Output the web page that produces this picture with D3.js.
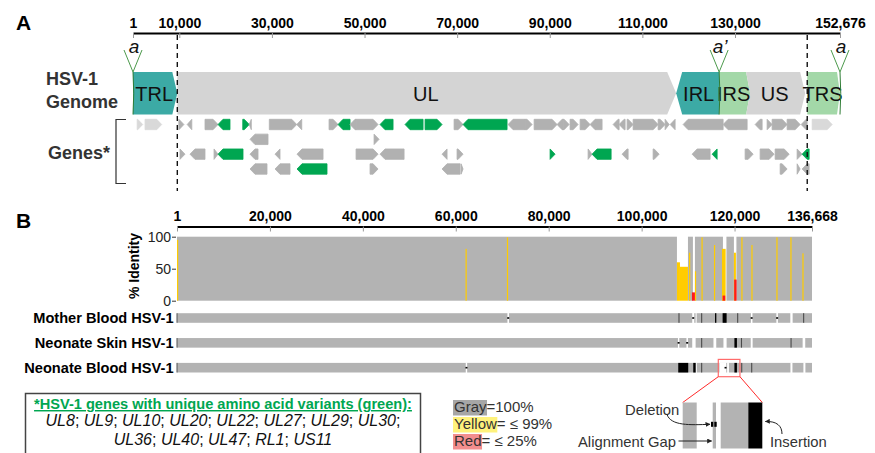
<!DOCTYPE html>
<html>
<head>
<meta charset="utf-8">
<script src="https://cdn.jsdelivr.net/npm/d3@7"></script>
<style>
  body { margin: 0; background: #fff; }
  svg { font-family: "Liberation Sans", Arial, Helvetica, sans-serif; }
</style>
</head>
<body>
<script>
// ---- data ----
var GENOME_LEN = 152676;
var ALIGN_LEN = 136668;
var genomeTicks = [1, 10000, 30000, 50000, 70000, 90000, 110000, 130000, 152676];
var alignTicks = [1, 20000, 40000, 60000, 80000, 100000, 120000, 136668];
var identityTicks = [0, 50, 100];

var regionNames = ["TRL", "UL", "IRL", "IRS", "US", "TRS"];
var regionStart = [1, 9570, 117300, 126580, 132400, 145600];
var regionEnd   = [9570, 117300, 126580, 133270, 145150, 152676];
var regionType  = ["RL", "U", "RL", "RS", "U", "RS"];
var aSites  = [1, 126580, 152676];
var aLabels = ["a", "a\u2019", "a"];

// [start, end, strand, row, class]  class: n = gene, v = unique aa variant, r = repeat copy
var genes = [
  [900, 2100, 1, 0, "r"], [2600, 6200, 1, 0, "r"], [9900, 11000, 1, 0, "n"], [11700, 12700, -1, 0, "n"],
  [15550, 18360, 1, 0, "n"], [18360, 20950, -1, 0, "v"], [23700, 25100, 1, 0, "v"], [25100, 25550, -1, 0, "n"],
  [29440, 35360, 1, 0, "n"], [35360, 36440, -1, 0, "n"], [42340, 44280, 1, 0, "n"], [44280, 46870, -1, 0, "v"],
  [46870, 48170, -1, 0, "n"], [48170, 52920, 1, 0, "n"], [53350, 56160, -1, 0, "v"], [58750, 62640, -1, 0, "v"],
  [63070, 66740, 1, 0, "v"], [69340, 71280, 1, 0, "n"], [71280, 80780, -1, 0, "v"], [81000, 84670, -1, 0, "n"],
  [84670, 86180, 1, 0, "n"], [86620, 91580, 1, 0, "n"], [91580, 92880, -1, 0, "n"], [92880, 94180, 1, 0, "n"],
  [94390, 96120, 1, 0, "n"], [96550, 98710, 1, 0, "n"], [98710, 101300, -1, 0, "n"], [103680, 104980, -1, 0, "n"],
  [104980, 106270, -1, 0, "n"], [106700, 108000, 1, 0, "n"], [108000, 113400, 1, 0, "n"], [113400, 114910, 1, 0, "n"],
  [114910, 115780, 1, 0, "n"], [116000, 117070, -1, 0, "n"], [118800, 127440, -1, 0, "n"], [127440, 132620, -1, 0, "n"],
  [134350, 135860, -1, 0, "n"], [136940, 138020, 1, 0, "n"], [138020, 141260, 1, 0, "n"], [141260, 144070, 1, 0, "n"],
  [144290, 145580, -1, 0, "n"], [146660, 150980, 1, 0, "r"],
  [25270, 29160, -1, 1, "n"], [52060, 53140, 1, 1, "n"],
  [10150, 11230, 1, 2, "n"], [12310, 15550, -1, 2, "n"], [17500, 18360, 1, 2, "n"], [18360, 23760, -1, 2, "v"],
  [25270, 27000, -1, 2, "n"], [30670, 31750, -1, 2, "n"], [35420, 41040, -1, 2, "n"], [48170, 52920, 1, 2, "n"],
  [53350, 58540, -1, 2, "n"], [66740, 67820, -1, 2, "n"], [69980, 71280, 1, 2, "n"], [90070, 91150, 1, 2, "v"],
  [98280, 99140, 1, 2, "n"], [99140, 103250, -1, 2, "v"], [105620, 106920, -1, 2, "n"], [112320, 113620, 1, 2, "n"],
  [120740, 124630, -1, 2, "n"], [125060, 126140, -1, 2, "v"], [132190, 133920, 1, 2, "n"], [135430, 138450, 1, 2, "n"],
  [138670, 141700, 1, 2, "n"], [143420, 144500, 1, 2, "n"], [144500, 146010, -1, 2, "v"],
  [25270, 28940, -1, 3, "n"], [30670, 33910, -1, 3, "n"], [35420, 41900, -1, 3, "v"], [51190, 52920, 1, 3, "n"],
  [66740, 70630, -1, 3, "n"], [70850, 71280, 1, 3, "n"], [139750, 141260, 1, 3, "n"], [143420, 144070, 1, 3, "n"],
  [144500, 146010, -1, 3, "n"]
];

// identity plot: covered stretches, then coloured windows [start, end, % identity]
var coverage = [[1, 107600], [109970, 111040], [111470, 117500], [118250, 119860], [120400, 136668]];
var yellowBars = [[1, 215, 95], [62100, 62300, 81], [71000, 71150, 99], [107600, 108250, 60], [108250, 109970, 53],
  [110200, 110370, 75], [111470, 111690, 46], [112880, 113030, 99], [115570, 115740, 87], [117290, 118080, 81],
  [119860, 120290, 75], [121460, 121610, 99], [123620, 123770, 87], [129000, 129150, 99], [132010, 132160, 99],
  [134600, 134750, 74]];
var redBars = [[110830, 111470, 13], [117430, 117990, 8], [119920, 120440, 33]];

var samples = ["Mother Blood HSV-1", "Neonate Skin HSV-1", "Neonate Blood HSV-1"];
var sampleGaps = [
  [[71120, 71450], [110890, 111320], [111620, 111840], [123520, 123850], [129000, 129330], [132000, 132500]],
  [[107820, 108100], [109650, 109970], [110890, 111620], [115460, 116060], [117610, 118290], [123480, 123890], [134650, 135210]],
  [[62150, 62450], [111730, 111900], [116750, 118210], [118400, 118790], [132030, 132460], [134820, 135250]]
];
var sampleDots = [[71280, 111100, 123680, 129160], [107960, 109800], [62300, 118060]];
var sampleSnps = [[108030, 112910, 120660, 134860], [112910, 121480, 132150], [112910, 121530, 123680]];
var sampleIndels = [
  [[115800, 116080], [117430, 118290]],
  [[119970, 120510]],
  [[107880, 110030], [111110, 111620], [119970, 120510]]
];
var zoomRange = [116500, 121160];

var legendWords = ["Gray", "Yellow", "Red"];
var legendRest = ["=100%", "= \u2264 99%", "= \u2264 25%"];
var variantTitle = "*HSV-1 genes with unique amino acid variants (green):";
var variantGenes = ["UL8", "UL9", "UL10", "UL20", "UL22", "UL27", "UL29", "UL30", "UL36", "UL40", "UL47", "RL1", "US11"];
var variantLines = [8, 5];

// ---- styles ----
var regionColor = { RL: "#3caaa5", U: "#d4d4d4", RS: "#a3d8a8" };
var geneColor = { n: "#b1b1b1", v: "#00a651", r: "#d9d9d9" };
var legendFill = ["#a6a6a6", "#fff27c", "#f28e8e"];
var GRAY = "#b3b3b3", YELLOW = "#ffcc00", RED = "#ff1a1a";

var WIDTH = 875, HEIGHT = 453;

var translate = function (x, y) { return "translate(" + x + "," + y + ")"; };

var svg = d3.select("body").append("svg")
    .attr("width", WIDTH)
    .attr("height", HEIGHT);

var defs = svg.append("defs");
defs.append("marker").attr("id", "arr")
    .attr("viewBox", "0 0 10 10").attr("refX", 9).attr("refY", 5)
    .attr("markerWidth", 5).attr("markerHeight", 5).attr("orient", "auto")
  .append("path").attr("d", "M0,0L10,5L0,10z").attr("fill", "#222");

svg.append("text").attr("x", 16).attr("y", 30).attr("font-size", 21).attr("font-weight", "bold").text("A");
svg.append("text").attr("x", 16).attr("y", 228).attr("font-size", 21).attr("font-weight", "bold").text("B");

// ================= Panel A =================
var xA = d3.scaleLinear().domain([1, GENOME_LEN]).range([133, 840]);
var rowY = d3.scaleLinear().domain([0, 3]).range([124.5, 169]);
var BOX_TOP = 72, BOX_BOT = 114.5;

var axisA = d3.axisTop(xA).tickValues(genomeTicks).tickFormat(d3.format(","))
    .tickSizeInner(-5).tickSizeOuter(0).tickPadding(5);
var gA = svg.append("g").attr("transform", translate(0, 33)).call(axisA)
    .attr("font-family", null).attr("font-size", 14).attr("font-weight", "bold");
gA.select(".domain").attr("stroke", "#000").attr("stroke-width", 2.2);
gA.selectAll(".tick line").attr("stroke", "#999");
gA.selectAll(".tick text").attr("fill", "#000");

svg.append("text").attr("x", 46).attr("y", 85).attr("font-size", 18).attr("font-weight", "bold")
    .attr("fill", "#333").text("HSV-1");
svg.append("text").attr("x", 46).attr("y", 107.5).attr("font-size", 18).attr("font-weight", "bold")
    .attr("fill", "#333").text("Genome");
svg.append("text").attr("x", 48).attr("y", 158.5).attr("font-size", 18).attr("font-weight", "bold")
    .attr("fill", "#333").text("Genes*");
svg.append("path").attr("d", "M126,119.5H116V183.5H126")
    .attr("fill", "none").attr("stroke", "#333").attr("stroke-width", 1.2);

// region shapes: left edge, right edge, head length
var regionShape = {
  TRL: ["flat", "point", 5], UL: ["flat", "point", 9], IRL: ["point", "flat", 6],
  IRS: ["flat", "point", 4], US: ["notch", "point", 5], TRS: ["flat", "point", 3]
};
var regionPath = function (i) {
  var x0 = xA(regionStart[i]), x1 = xA(regionEnd[i]);
  var s = regionShape[regionNames[i]], h = s[2], cy = (BOX_TOP + BOX_BOT) / 2;
  var p = [];
  if (s[0] === "point") p.push([x0 + h, BOX_TOP]); else p.push([x0, BOX_TOP]);
  if (s[1] === "point") { p.push([x1 - h, BOX_TOP]); p.push([x1, cy]); p.push([x1 - h, BOX_BOT]); }
  else { p.push([x1, BOX_TOP]); p.push([x1, BOX_BOT]); }
  if (s[0] === "point") { p.push([x0 + h, BOX_BOT]); p.push([x0, cy]); }
  else if (s[0] === "notch") { p.push([x0, BOX_BOT]); p.push([x0 + 4, cy]); }
  else p.push([x0, BOX_BOT]);
  return "M" + p.join("L") + "Z";
};

var regIdx = d3.range(regionNames.length);
svg.append("g").selectAll("path").data(regIdx).enter().append("path")
    .attr("d", regionPath)
    .attr("fill", function (i) { return regionColor[regionType[i]]; });

svg.append("g").selectAll("text").data(regIdx).enter().append("text")
    .attr("x", function (i) {
      var s = regionShape[regionNames[i]];
      var x0 = xA(regionStart[i]), x1 = xA(regionEnd[i]);
      return (x0 + x1) / 2 + (s[0] === "point" ? 1 : 0) - (s[1] === "point" ? 1 : 0);
    })
    .attr("y", 101)
    .attr("text-anchor", "middle")
    .attr("font-size", 20)
    .attr("fill", "#111")
    .text(function (i) { return regionNames[i]; });

// "a" sequences
var aG = svg.append("g").selectAll("g").data(aSites).enter().append("g");
aG.append("path")
    .attr("d", function (d) { var x = xA(d); return "M" + (x - 9) + ",50L" + x + "," + BOX_TOP + "L" + (x + 9) + ",50"; })
    .attr("fill", "none").attr("stroke", "#4c9a4c").attr("stroke-width", 1);
aG.append("path")
    .attr("d", function (d) { var x = xA(d); return "M" + x + "," + BOX_TOP + "Q" + (x + 1.5) + "," + ((BOX_TOP + BOX_BOT) / 2) + " " + x + "," + BOX_BOT; })
    .attr("fill", "none").attr("stroke", "#2f7d36").attr("stroke-width", 1);
aG.append("text")
    .attr("x", function (d) { return xA(d) + 1; })
    .attr("y", 53)
    .attr("text-anchor", "middle")
    .attr("font-size", 19)
    .attr("font-style", "italic")
    .attr("fill", "#111")
    .text(function (d, i) { return aLabels[i]; });

// genes
var genePath = function (d) {
  var x0 = xA(d[0]), x1 = xA(d[1]), cy = rowY(d[3]), h = 5.2;
  var head = Math.min(5, x1 - x0);
  if (d[2] > 0) {
    return "M" + x0 + "," + (cy - h) + "L" + (x1 - head) + "," + (cy - h) + "L" + x1 + "," + cy +
      "L" + (x1 - head) + "," + (cy + h) + "L" + x0 + "," + (cy + h) + "Z";
  }
  return "M" + x1 + "," + (cy - h) + "L" + (x0 + head) + "," + (cy - h) + "L" + x0 + "," + cy +
    "L" + (x0 + head) + "," + (cy + h) + "L" + x1 + "," + (cy + h) + "Z";
};
svg.append("g").selectAll("path").data(genes).enter().append("path")
    .attr("d", genePath)
    .attr("fill", function (d) { return geneColor[d[4]]; })
    .attr("stroke", function (d) { return geneColor[d[4]]; })
    .attr("stroke-width", 0.8)
    .attr("stroke-linejoin", "round");

// repeat boundaries
svg.append("g").selectAll("line").data([regionEnd[0], regionStart[5]]).enter().append("line")
    .attr("x1", xA).attr("x2", xA)
    .attr("y1", 35).attr("y2", 191)
    .attr("stroke", "#111").attr("stroke-width", 1.4).attr("stroke-dasharray", "5,4");

// ================= Panel B =================
var xB = d3.scaleLinear().domain([1, ALIGN_LEN]).range([177, 812]);
var yId = d3.scaleLinear().domain([0, 100]).range([300.7, 236.7]);
var trackY = d3.scaleLinear().domain([0, 2]).range([318, 367.7]);
var TRACK_H = 9.6;

var axisB = d3.axisTop(xB).tickValues(alignTicks).tickFormat(d3.format(","))
    .tickSizeInner(-5).tickSizeOuter(0).tickPadding(5.5);
var gB = svg.append("g").attr("transform", translate(0, 226.5)).call(axisB)
    .attr("font-family", null).attr("font-size", 14).attr("font-weight", "bold");
gB.select(".domain").attr("stroke", "#000").attr("stroke-width", 2.2);
gB.selectAll(".tick line").attr("stroke", "#999");
gB.selectAll(".tick text").attr("fill", "#000");

var yAxis = d3.axisLeft(yId).tickValues(identityTicks).tickSizeInner(4).tickSizeOuter(0).tickPadding(1);
var gY = svg.append("g").attr("transform", translate(176, 0)).call(yAxis)
    .attr("font-family", null).attr("font-size", 14);
gY.select(".domain").remove();
gY.selectAll(".tick line").attr("stroke", "#333");
gY.selectAll(".tick text").attr("fill", "#222");

svg.append("text").attr("transform", translate(139, 266) + " rotate(-90)")
    .attr("text-anchor", "middle").attr("font-size", 14).attr("font-weight", "bold").text("% Identity");

var barRect = function (g, data, color, minW) {
  g.selectAll(null).data(data).enter().append("rect")
      .attr("x", function (d) { return xB(d[0]); })
      .attr("width", function (d) { return Math.max(minW, xB(d[1]) - xB(d[0])); })
      .attr("y", function (d) { return yId(d[2] === undefined ? 100 : d[2]); })
      .attr("height", function (d) { return yId(0) - yId(d[2] === undefined ? 100 : d[2]); })
      .attr("fill", color);
};
var idG = svg.append("g");
barRect(idG, coverage, GRAY, 0.8);
barRect(idG, yellowBars, YELLOW, 1.2);
barRect(idG, redBars, RED, 1.2);

// sample tracks
var trG = svg.append("g").selectAll("g").data(samples).enter().append("g");
trG.append("text")
    .attr("x", 173.5)
    .attr("y", function (d, i) { return trackY(i) + 4.9; })
    .attr("text-anchor", "end")
    .attr("font-size", 14.6)
    .attr("font-weight", "bold")
    .text(function (d) { return d; });
trG.append("rect")
    .attr("x", xB(1)).attr("width", xB(ALIGN_LEN) - xB(1))
    .attr("y", function (d, i) { return trackY(i) - TRACK_H / 2; })
    .attr("height", TRACK_H)
    .attr("fill", GRAY);
trG.append("rect")
    .attr("x", xB(1) - 0.5).attr("width", 1)
    .attr("y", function (d, i) { return trackY(i) - TRACK_H / 2; })
    .attr("height", TRACK_H)
    .attr("fill", "#555");
trG.each(function (d, i) {
  var g = d3.select(this), y0 = trackY(i) - TRACK_H / 2;
  g.selectAll(".gap").data(sampleGaps[i]).enter().append("rect")
      .attr("x", function (s) { return xB(s[0]); })
      .attr("width", function (s) { return xB(s[1]) - xB(s[0]); })
      .attr("y", y0 - 0.5).attr("height", TRACK_H + 1).attr("fill", "#fff");
  g.selectAll(".snp").data(sampleSnps[i]).enter().append("rect")
      .attr("x", function (s) { return xB(s) - 0.5; })
      .attr("width", 1.1).attr("y", y0).attr("height", TRACK_H).attr("fill", "#4a4a4a");
  g.selectAll(".indel").data(sampleIndels[i]).enter().append("rect")
      .attr("x", function (s) { return xB(s[0]); })
      .attr("width", function (s) { return xB(s[1]) - xB(s[0]); })
      .attr("y", y0).attr("height", TRACK_H).attr("fill", "#000");
  g.selectAll(".dot").data(sampleDots[i]).enter().append("rect")
      .attr("x", function (s) { return xB(s) - 1; })
      .attr("width", 2).attr("y", trackY(i) - 0.8).attr("height", 1.6).attr("fill", "#000");
});

// zoom box and inset
var zx0 = xB(zoomRange[0]), zx1 = xB(zoomRange[1]);
var zy0 = trackY(2) - 8.3, zy1 = trackY(2) + 9;
svg.append("rect").attr("x", zx0).attr("y", zy0).attr("width", zx1 - zx0).attr("height", zy1 - zy0)
    .attr("fill", "none").attr("stroke", "#ff6b6b").attr("stroke-width", 1.2);

var inset = d3.scaleLinear().domain([0, 80]).range([682.7, 762.7]);
var INSET_TOP = 402.5, INSET_BOT = 448.5;
svg.append("path")
    .attr("d", "M" + zx0 + "," + zy1 + "L" + inset(0) + "," + INSET_TOP + "M" + zx1 + "," + zy1 + "L" + inset(79.6) + "," + INSET_TOP)
    .attr("fill", "none").attr("stroke", "#ff2a2a").attr("stroke-width", 1);

var insetParts = [[0, 14, GRAY], [30, 33.3, GRAY], [38, 65.6, GRAY], [65.6, 79.6, "#000"]];
svg.append("g").selectAll("rect").data(insetParts).enter().append("rect")
    .attr("x", function (d) { return inset(d[0]); })
    .attr("width", function (d) { return inset(d[1]) - inset(d[0]); })
    .attr("y", INSET_TOP).attr("height", INSET_BOT - INSET_TOP)
    .attr("fill", function (d) { return d[2]; });
var deletionMarks = [[28.3, 30.6], [31.6, 34]];
svg.append("g").selectAll("rect").data(deletionMarks).enter().append("rect")
    .attr("x", function (d) { return inset(d[0]); })
    .attr("width", function (d) { return inset(d[1]) - inset(d[0]); })
    .attr("y", 421.8).attr("height", 5).attr("fill", "#000");

var noteG = svg.append("g").attr("font-size", 14.8).attr("fill", "#333");
noteG.append("text").attr("x", 625).attr("y", 414.5).text("Deletion");
noteG.append("text").attr("x", 578).attr("y", 446.5).text("Alignment Gap");
noteG.append("text").attr("x", 770).attr("y", 446.5).text("Insertion");
var arrows = [
  "M667,414.5C671,426 690,425 " + (inset(28.3) - 1) + ",424.3",
  "M678.5,441L" + (inset(29)) + ",441",
  "M782,434C782,426 777,421 " + (inset(79.6) + 3) + ",421.5"
];
svg.append("g").selectAll("path").data(arrows).enter().append("path")
    .attr("d", function (d) { return d; })
    .attr("fill", "none").attr("stroke", "#222").attr("stroke-width", 1)
    .attr("marker-end", "url(#arr)");

// colour legend
var legendG = svg.append("g");
legendWords.forEach(function (w, i) {
  var y = 412 + i * 17;
  var t = legendG.append("text").attr("x", 454).attr("y", y).attr("font-size", 15).attr("fill", "#333");
  var word = t.append("tspan").text(w);
  t.append("tspan").text(legendRest[i]);
  var wl = word.node().getComputedTextLength();
  legendG.insert("rect", function () { return t.node(); })
      .attr("x", 453).attr("y", y - 12).attr("width", wl + 1.5).attr("height", 15.5)
      .attr("fill", legendFill[i]);
});

// gene legend box
var boxG = svg.append("g");
boxG.append("rect").attr("x", 25.5).attr("y", 393.5).attr("width", 395).attr("height", 70)
    .attr("fill", "#fff").attr("stroke", "#444").attr("stroke-width", 1.5);
boxG.append("text").attr("x", 223).attr("y", 409).attr("text-anchor", "middle")
    .attr("font-size", 14.6).attr("font-weight", "bold").attr("fill", "#00a651")
    .attr("text-decoration", "underline").text(variantTitle);
var start = 0;
variantLines.forEach(function (n, li) {
  var names = variantGenes.slice(start, start + n);
  start += n;
  var t = boxG.append("text").attr("x", 223).attr("y", 426 + li * 19).attr("text-anchor", "middle")
      .attr("font-size", 16).attr("fill", "#111");
  names.forEach(function (g, k) {
    t.append("tspan").attr("font-style", "italic").text(g);
    var last = k === names.length - 1;
    if (!last) t.append("tspan").text("; ");
    else if (li < variantLines.length - 1) t.append("tspan").text(";");
  });
});
</script>
</body>
</html>
